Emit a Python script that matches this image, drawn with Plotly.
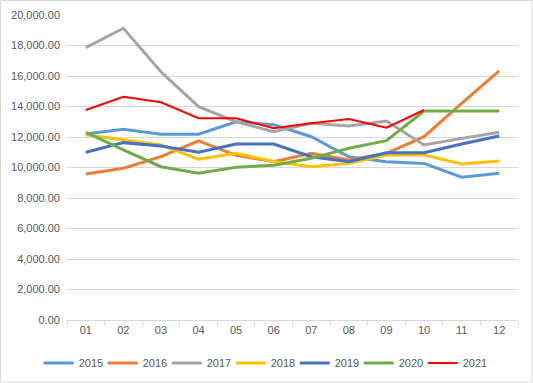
import plotly.graph_objects as go

months = ["01", "02", "03", "04", "05", "06", "07", "08", "09", "10", "11", "12"]
s2015 = [12200, 12500, 12180, 12180, 13000, 12800, 12020, 10700, 10380, 10270, 9360, 9620]
s2016 = [9570, 9950, 10710, 11740, 10800, 10380, 10930, 10490, 10930, 12020, 14200, 16330]
s2017 = [17860, 19130, 16280, 13990, 13000, 12350, 12900, 12720, 13050, 11480, 11910, 12310]
s2018 = [12150, 11800, 11480, 10540, 10930, 10400, 10050, 10270, 10820, 10820, 10230, 10430]
s2019 = [11000, 11630, 11410, 11000, 11540, 11540, 10710, 10380, 10970, 10970, 11540, 12070]
s2020 = [12310, 11150, 10050, 9620, 10010, 10150, 10600, 11260, 11760, 13700, 13700, 13700]
s2021 = [13770, 14640, 14280, 13230, 13230, 12570, 12900, 13180, 12610, 13770, None, None]

series = [
    ("2015", s2015, "#5B9BD5", 3),
    ("2016", s2016, "#ED7D31", 3),
    ("2017", s2017, "#A5A5A5", 3),
    ("2018", s2018, "#FFC000", 3),
    ("2019", s2019, "#4472C4", 3),
    ("2020", s2020, "#70AD47", 3),
    ("2021", s2021, "#FF0000", 2),
]

fig = go.Figure()
for name, vals, color, w in series:
    fig.add_trace(go.Scatter(x=months, y=vals, name=name, mode="lines",
                             line=dict(color=color, width=w)))

fig.update_layout(
    width=533, height=383,
    margin=dict(l=67, r=15, t=15, b=63, autoexpand=False),
    paper_bgcolor="white", plot_bgcolor="white",
    font=dict(family="Liberation Sans, Arial, sans-serif", size=11, color="#595959"),
    legend=dict(orientation="h", x=0.434, xanchor="center", y=-0.141, yanchor="middle",
                font=dict(size=11, color="#595959"), itemwidth=30,
                entrywidth=19, entrywidthmode="pixels", traceorder="normal"),
    shapes=[dict(type="rect", xref="paper", yref="paper",
                 x0=-66.5/451, x1=1+14/451, y0=-62/305, y1=1+14.5/305,
                 line=dict(color="#D9D9D9", width=1), fillcolor="rgba(0,0,0,0)")],
)
fig.update_xaxes(type="category", range=[-0.5, 11.5], showgrid=False, showline=True,
                 linecolor="#D9D9D9", ticks="outside", tickson="boundaries", ticklen=4,
                 tickcolor="#D9D9D9", tickfont=dict(size=11, color="#595959"))
fig.update_yaxes(range=[0, 20000], dtick=2000, tickformat=",.2f", showgrid=True,
                 gridcolor="#D9D9D9", gridwidth=1, zeroline=False, showline=False,
                 tickfont=dict(size=11, color="#595959"), ticklabelstandoff=6)

fig.write_html("out.html", config={"displayModeBar": False},
               post_script="document.body.style.margin='0';")
